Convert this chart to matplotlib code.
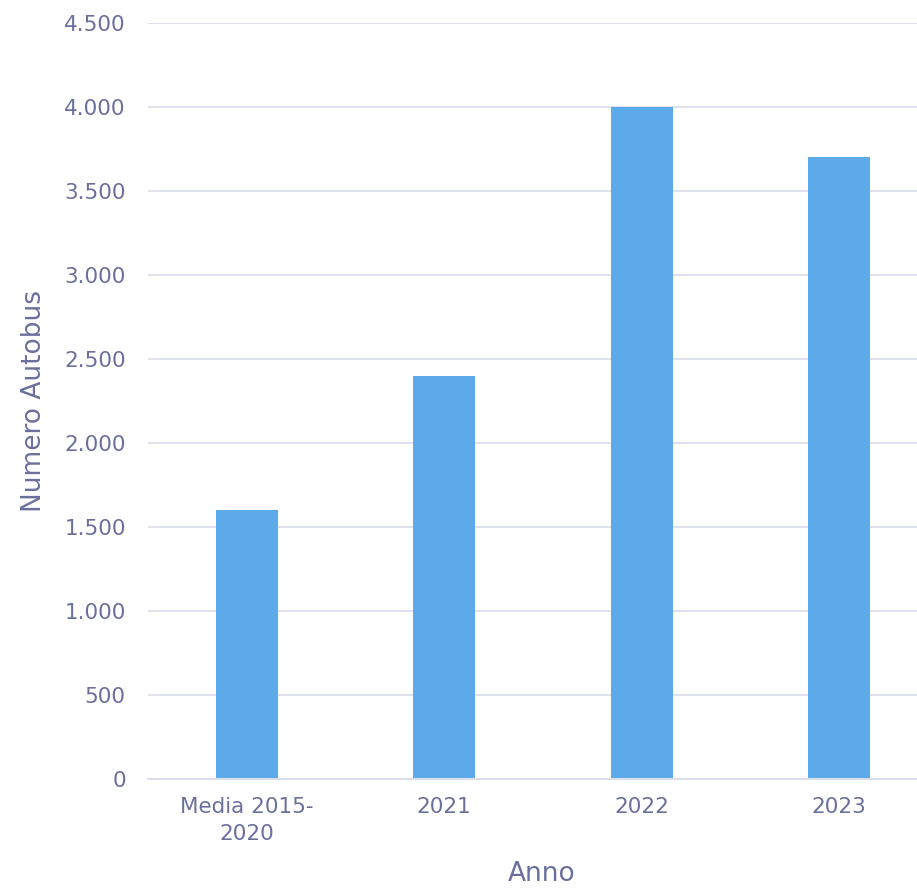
import matplotlib
matplotlib.use("Agg")
import matplotlib.pyplot as plt

categorie = ["Media 2015-\n2020", "2021", "2022", "2023"]
autobus = [1600, 2400, 4000, 3700]
yticks = [0, 500, 1000, 1500, 2000, 2500, 3000, 3500, 4000, 4500]
ytick_labels = ["0", "500", "1.000", "1.500", "2.000", "2.500", "3.000", "3.500", "4.000", "4.500"]

text_color = "#6B6F9C"
grid_color = "#DCDEEA"
bar_color = "#5DAAEB"

plt.rcParams["font.family"] = ["DejaVu Sans"]

fig = plt.figure(figsize=(9.17, 8.88), dpi=100)
W, H = 917, 888
# axes run a little past the right edge, so the last category is cut off
ax_w = 938 - 148
ax_h = 779 - 23
ax = fig.add_axes([148 / W, 109 / H, ax_w / W, ax_h / H])

x = list(range(len(categorie)))
ax.bar(x, autobus, width=0.315, color=bar_color, zorder=3)

ax.set_xlim(-0.5, 3.5)
ax.set_ylim(0, 4500)
ax.set_yticks(yticks)
ax.set_yticklabels(ytick_labels)
ax.set_xticks(x)
ax.set_xticklabels(categorie, linespacing=1.45)

ax.yaxis.grid(True, color=grid_color, linewidth=1.3, zorder=0)
for side in ["top", "right", "left"]:
    ax.spines[side].set_visible(False)
ax.spines["bottom"].set_color(grid_color)
ax.spines["bottom"].set_linewidth(1.5)
ax.spines["bottom"].set_zorder(4)

ax.tick_params(axis="both", length=0, labelsize=15.5, labelcolor=text_color)
ax.tick_params(axis="y", pad=16)
ax.tick_params(axis="x", pad=13)

ax.set_ylabel("Numero Autobus", fontsize=19, color=text_color)
ax.set_xlabel("Anno", fontsize=19, color=text_color)
ax.xaxis.label.set_va("center")
ax.yaxis.label.set_va("center")
ax.xaxis.set_label_coords((542 - 148) / ax_w, (779 - 874) / ax_h)
ax.yaxis.set_label_coords((34 - 148) / ax_w, 0.5)

fig.savefig("out.png", dpi=100)
